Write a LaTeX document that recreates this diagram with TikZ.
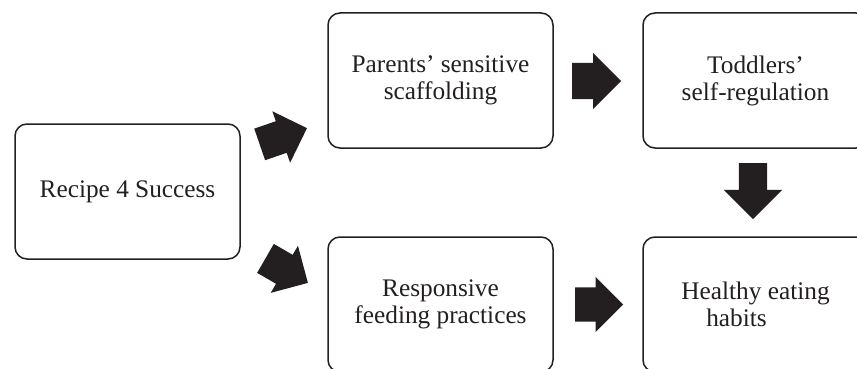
\documentclass[tikz,border=0pt]{standalone}
\usepackage{fontspec}
\setmainfont{Liberation Serif}
\usetikzlibrary{shapes.arrows}
\definecolor{ink}{RGB}{35,31,32}
\begin{document}
\begin{tikzpicture}[x=1pt,y=-1pt,
  box/.style={draw=ink, line width=1.5pt, rounded corners=12pt, minimum width=225pt, minimum height=135pt,
    align=center, text=ink, inner sep=0pt, font=\fontsize{25.3}{27}\selectfont},
  blk/.style={single arrow, fill=ink, draw=none, inner xsep=0pt, single arrow tip angle=90, anchor=tail}]
\useasboundingbox (0,0) rectangle (857,369);
\clip (0,0) rectangle (857,369);
\node[box] (rec) at (127.5,191.5) {Recipe 4 Success};
\node[box] (par) at (440.5,80.5) {Parents’ sensitive\\scaffolding};
\node[box] (tod) at (755.5,80.5) {Toddlers’\\self-regulation};
\node[box] (res) at (440.5,304.5) {Responsive\\feeding practices};
\node[box] (hea) at (755.5,304.5) {Healthy eating\\habits\hspace*{38pt}};
\node[blk, rotate=19, minimum height=50pt, inner ysep=16.5pt, single arrow head extend=10.5pt] (a1) at (259.5,144.5) {};
\node[blk, rotate=-30, minimum height=49pt, inner ysep=16.5pt, single arrow head extend=10.5pt] (a2) at (265.3,258.3) {};
\node[blk, minimum height=49pt, inner ysep=18pt, single arrow head extend=10pt] (a3) at (572,81) {};
\node[blk, rotate=-90, minimum height=56pt, inner ysep=14pt, single arrow head extend=15pt] (a4) at (753,163) {};
\node[blk, minimum height=48pt, inner ysep=17pt, single arrow head extend=10.5pt] (a5) at (575,304.5) {};
\end{tikzpicture}
\end{document}
